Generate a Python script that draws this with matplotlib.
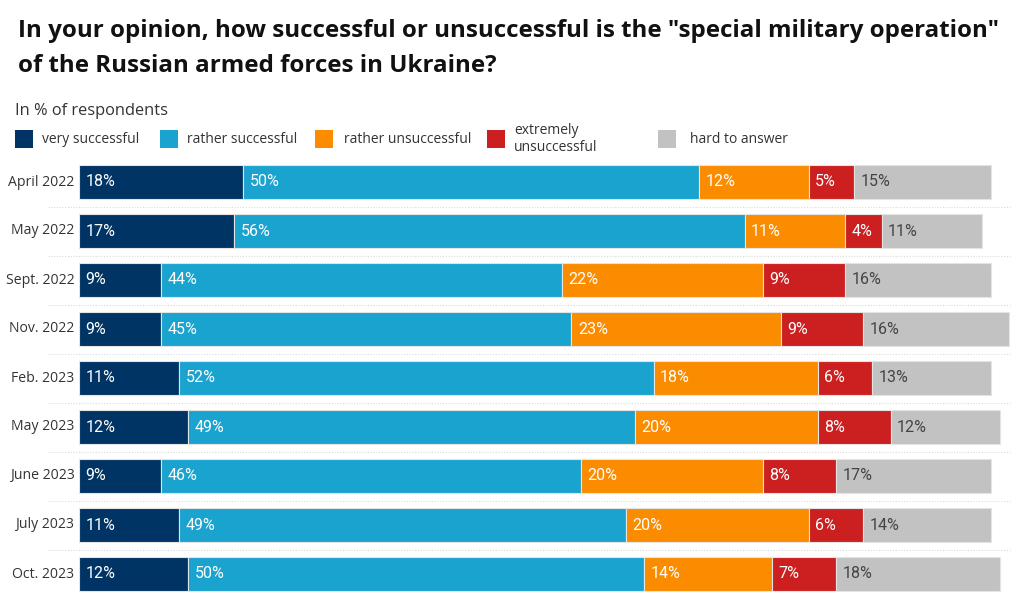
import matplotlib
matplotlib.use("Agg")
import matplotlib.pyplot as plt
from matplotlib.patches import Rectangle
from matplotlib.lines import Line2D

categories = ["April 2022", "May 2022", "Sept. 2022", "Nov. 2022", "Feb. 2023",
              "May 2023", "June 2023", "July 2023", "Oct. 2023"]
series_names = ["very successful", "rather successful", "rather unsuccessful",
                "extremely\nunsuccessful", "hard to answer"]
very_successful = [18, 17, 9, 9, 11, 12, 9, 11, 12]
rather_successful = [50, 56, 44, 45, 52, 49, 46, 49, 50]
rather_unsuccessful = [12, 11, 22, 23, 18, 20, 20, 20, 14]
extremely_unsuccessful = [5, 4, 9, 9, 6, 8, 8, 6, 7]
hard_to_answer = [15, 11, 16, 16, 13, 12, 17, 14, 18]
series = [very_successful, rather_successful, rather_unsuccessful,
          extremely_unsuccessful, hard_to_answer]
colors = ["#003465", "#1aa3cf", "#fb8c00", "#cc1f1f", "#c2c2c2"]
text_colors = ["white", "white", "white", "white", "#444444"]

W, H = 1024, 609
fig = plt.figure(figsize=(W / 100, H / 100), dpi=100)
fig.patch.set_facecolor("white")

x0 = 79
ppu = 9.12
xmax = 103
top, bottom = 157.5, 598.5
ax = fig.add_axes([x0 / W, 1 - bottom / H, xmax * ppu / W, (bottom - top) / H])
ax.set_xlim(0, xmax)
ax.set_ylim(len(categories) - 0.5, -0.5)
ax.axis("off")

# separators
for i in range(len(categories) - 1):
    yp = 1 - (top + (i + 1) * 49) / H
    fig.add_artist(Line2D([48 / W, 1010 / W], [yp, yp], color="#dadada",
                          lw=0.8, linestyle=(0, (1, 1.5)), transform=fig.transFigure))

lab_font = "Open Sans"
num_font = "Roboto"
for i, cat in enumerate(categories):
    left = 0
    for s, vals in enumerate(series):
        v = vals[i]
        ax.barh(i, v, left=left, height=0.7, color=colors[s],
                edgecolor="#e4e4e4", linewidth=0.8)
        ax.text(left + 0.7, i, f"{v}%", va="center", ha="left",
                color=text_colors[s], fontsize=11.5, family=num_font)
        left += v
    ax.text(-0.5, i, cat, ha="right", va="center", fontsize=10.1,
            color="#333333", family=lab_font)

fig.text(18 / W, 1 - 31 / H,
         'In your opinion, how successful or unsuccessful is the "special military operation"',
         fontsize=17.4, fontweight="bold", family=lab_font, va="center", ha="left", color="#111111")
fig.text(18 / W, 1 - 66 / H, 'of the Russian armed forces in Ukraine?',
         fontsize=17.4, fontweight="bold", family=lab_font, va="center", ha="left", color="#111111")
fig.text(15 / W, 1 - 111 / H, "In % of respondents", fontsize=11.8, family=lab_font,
         va="center", ha="left", color="#333333")

leg_sq = [15, 160, 315, 487, 658]
leg_tx = [42, 187, 344, 514, 690]
for s in range(5):
    fig.add_artist(Rectangle((leg_sq[s] / W, 1 - 148 / H), 18 / W, 18 / H,
                             facecolor=colors[s], edgecolor="none", transform=fig.transFigure))
    fig.text(leg_tx[s] / W, 1 - 139 / H, series_names[s], fontsize=10, family=lab_font,
             va="center", ha="left", color="#333333", linespacing=1.2)

fig.savefig("out.png", dpi=100, facecolor="white")
